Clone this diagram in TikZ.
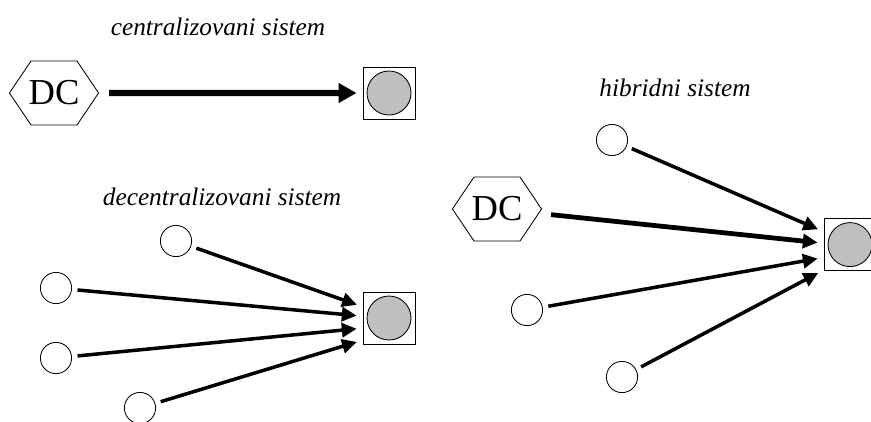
\documentclass[tikz,border=0pt]{standalone}
\usepackage{fontspec}
\setmainfont{Liberation Serif}
\usetikzlibrary{shapes.symbols,arrows.meta}

\tikzstyle{dc}= [signal,signal to=west and east,signal pointer angle=112,draw,black,line width=0.6pt,minimum width=2cm,minimum height=1.6cm,inner xsep=-0.06cm,inner ysep=0pt,font=\fontsize{26}{26}\selectfont]
\tikzstyle{cvor}= [circle,draw,black,line width=0.6pt,minimum size=0.78cm,inner sep=0pt]
\tikzstyle{kutija}= [rectangle,draw,black,line width=0.6pt,minimum size=1.3cm,inner sep=0pt]
\tikzstyle{krug}= [circle,draw,black,fill=black!25,line width=0.6pt,minimum size=1.1cm,inner sep=0pt]
\tikzstyle{naslov}= [font=\fontsize{18}{18}\selectfont\itshape]
\tikzstyle{veza}= [black,line width=2.5pt,-{Triangle[length=0.37cm,width=0.35cm]},shorten <=0.14cm,shorten >=0.15cm]

\begin{document}
\begin{tikzpicture}

		\useasboundingbox (0,0) rectangle (21.775,10.525);

		% centralizovani sistem
		\node (n1) at (5.45,9.85) [naslov] {centralizovani sistem};
		\node (dc1) at (1.35,8.2) [dc] {DC};
		\node (k1) at (9.725,8.2) [kutija] {};
		\node (k1c) at (9.725,8.2) [krug] {};

		% decentralizovani sistem
		\node (n2) at (5.55,5.6) [naslov] {decentralizovani sistem};
		\node (a1) at (4.4,4.5) [cvor] {};
		\node (a2) at (1.4,3.325) [cvor] {};
		\node (a3) at (1.4,1.575) [cvor] {};
		\node (a4) at (3.5,0.325) [cvor] {};
		\node (k2) at (9.725,2.575) [kutija] {};
		\node (k2c) at (9.725,2.575) [krug] {};

		% hibridni sistem
		\node (n3) at (16.875,8.33) [naslov] {hibridni sistem};
		\node (dc2) at (12.425,5.3) [dc] {DC};
		\node (b1) at (15.3,7.025) [cvor] {};
		\node (b2) at (13.175,2.775) [cvor] {};
		\node (b3) at (15.55,1.1) [cvor] {};
		\node (k3) at (21.25,4.41) [kutija] {};
		\node (k3c) at (21.25,4.41) [krug] {};

		\path[veza,line width=4.3pt,-{Triangle[length=0.45cm,width=0.47cm]},shorten <=0.25cm] (dc1) edge[] node {} (k1);

		\path[veza] (a1) edge[] node {} (k2.157);
		\path[veza] (a2) edge[] node {} (k2.176);
		\path[veza] (a3) edge[] node {} (k2.201);
		\path[veza] (a4) edge[] node {} (k2.220);

		\path[veza] (b1) edge[] node {} (k3.154);
		\path[veza,line width=3.4pt,shorten <=0.3cm] (dc2) edge[] node {} (k3.177);
		\path[veza] (b2) edge[] node {} (k3.206);
		\path[veza] (b3) edge[] node {} (k3.224);

	\end{tikzpicture}
\end{document}
